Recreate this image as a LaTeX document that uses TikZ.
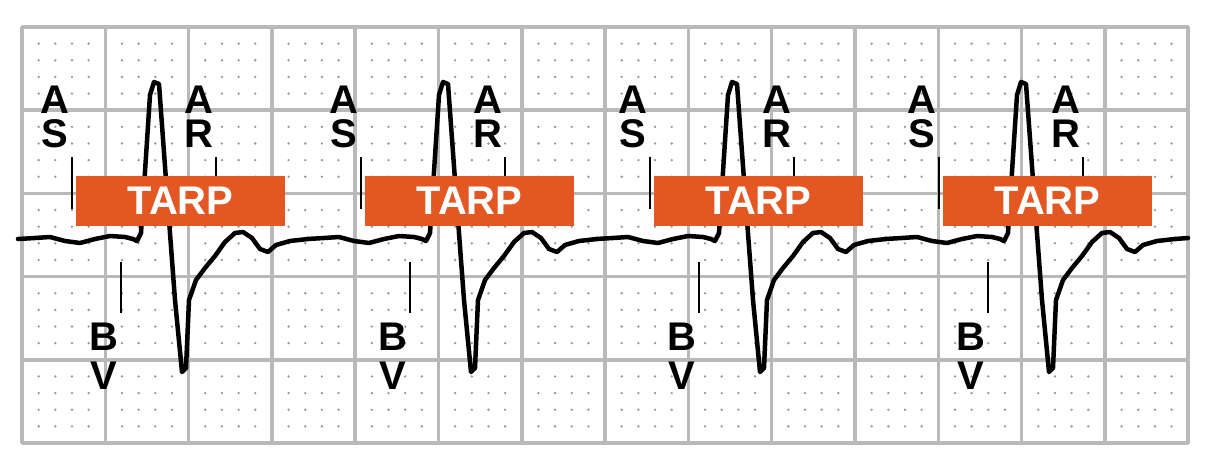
\documentclass[tikz,border=0pt]{standalone}
\usepackage{fontspec}
\setmainfont{Liberation Sans}
\definecolor{gridc}{RGB}{185,185,185}
\definecolor{dotc}{RGB}{150,150,150}
\definecolor{tarpc}{RGB}{226,87,34}
\tikzset{
 lbl/.style={font=\fontsize{40}{40}\selectfont\bfseries, inner sep=0pt, text=black},
 tarpbox/.style={fill=tarpc, minimum width=209pt, minimum height=50pt, inner sep=0pt, text=white, font=\fontsize{40}{40}\selectfont\bfseries},
 tick/.style={line width=2pt},
 ecg/.style={line width=4.5pt, line join=round, line cap=round}
}
\begin{document}
\begin{tikzpicture}[x=1pt,y=-1pt]
\useasboundingbox (0,0) rectangle (1206,471);
% dots
\foreach \i in {0,...,70}{\foreach \j in {0,...,25}{
 \fill[dotc] ({22+\i*16.66},{27+\j*16.64}) circle (1.3pt);}}
% grid
\foreach \i in {0,...,14} \draw[gridc, line width=3.5pt] ({22+\i*83.3},27) -- ({22+\i*83.3},443);
\foreach \j in {0,...,5} \draw[gridc, line width=3.5pt] (22,{27+\j*83.2}) -- (1188,{27+\j*83.2});
% ecg
\foreach \k [count=\n] in {0,289,578,867}{
\begin{scope}[xshift=\k]
 \draw[ecg] (18,239) -- (35,238) -- (50,237) -- (65,241) -- (80,243) -- (95,239) -- (110,236) -- (125,237) -- (133,239) -- (137,241) -- (141,233) -- (150,95) -- (154,82) -- (159,84) -- (166,180) -- (175,300) -- (182,372) -- (186,368) -- (189,300) -- (196,280) -- (205,268) -- (215,256) -- (225,242) -- (235,233) -- (243,232) -- (252,238) -- (260,249) -- (268,252) -- (276,245) -- (290,241) -- (308,239);
 \node[lbl] (a1\n) at (55,100) {A};
 \node[lbl] (s\n) at (55,134) {S};
 \node[lbl] (a2\n) at (199,100) {A};
 \node[lbl] (r\n) at (199,134) {R};
 \node[lbl] (b\n) at (104,337) {B};
 \node[lbl] (v\n) at (104,376) {V};
 \coordinate (as1\n) at (72,157); \coordinate (as2\n) at (72,209);
 \draw[tick] (as1\n) -- (as2\n);
 \coordinate (ar1\n) at (216,157); \coordinate (ar2\n) at (216,177);
 \draw[tick] (ar1\n) -- (ar2\n);
 \coordinate (bv1\n) at (121,262); \coordinate (bv2\n) at (121,313);
 \draw[tick] (bv1\n) -- (bv2\n);
 \node[tarpbox] (t\n) at (180.5,201) {TARP};
\end{scope}}
\draw[ecg] (1175,239) -- (1188,238);
\end{tikzpicture}
\end{document}
